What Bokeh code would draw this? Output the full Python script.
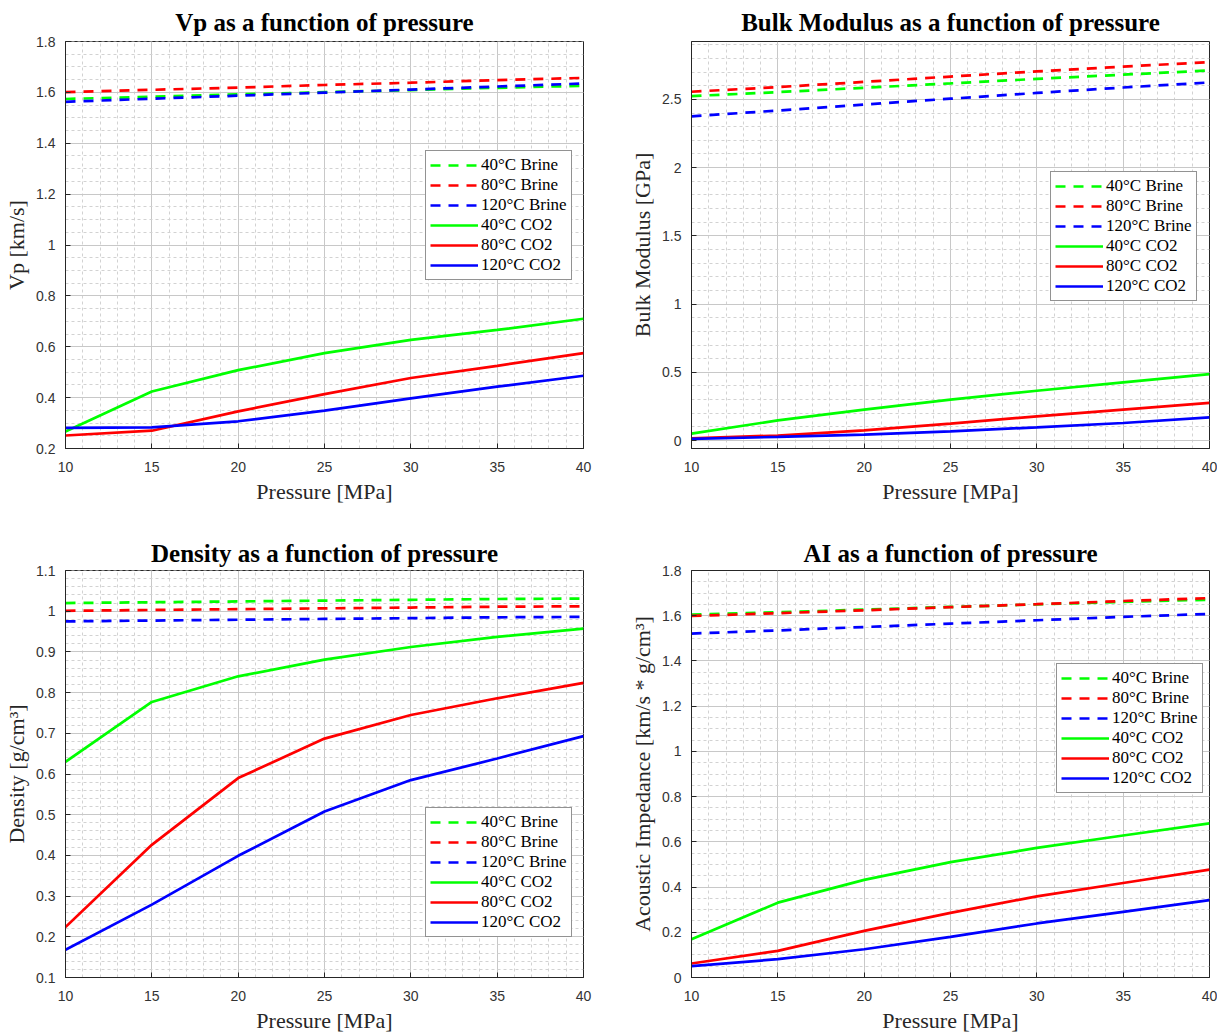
from bokeh.plotting import figure
from bokeh.layouts import column, row
from bokeh.models import Range1d, FixedTicker, CustomJSTickFormatter, Title
from bokeh.embed import file_html
from bokeh.resources import INLINE
import numpy as np

# ---------------- data ----------------
pressure = [10, 15, 20, 25, 30, 35, 40]
series_labels = ["40°C Brine", "80°C Brine", "120°C Brine", "40°C CO2", "80°C CO2", "120°C CO2"]

vp_brine_40 = [1.574, 1.583, 1.592, 1.601, 1.609, 1.618, 1.626]
vp_brine_80 = [1.601, 1.610, 1.619, 1.629, 1.638, 1.648, 1.657]
vp_brine_120 = [1.563, 1.575, 1.587, 1.599, 1.611, 1.623, 1.635]
vp_co2_40 = [0.267, 0.424, 0.508, 0.575, 0.627, 0.666, 0.710]
vp_co2_80 = [0.251, 0.270, 0.346, 0.414, 0.477, 0.525, 0.575]
vp_co2_120 = [0.281, 0.283, 0.307, 0.349, 0.397, 0.443, 0.486]

k_brine_40 = [2.524, 2.553, 2.585, 2.617, 2.650, 2.681, 2.712]
k_brine_80 = [2.556, 2.590, 2.628, 2.667, 2.705, 2.740, 2.773]
k_brine_120 = [2.376, 2.418, 2.462, 2.505, 2.547, 2.587, 2.624]
k_co2_40 = [0.051, 0.148, 0.227, 0.300, 0.365, 0.426, 0.487]
k_co2_80 = [0.017, 0.037, 0.075, 0.124, 0.178, 0.227, 0.276]
k_co2_120 = [0.012, 0.027, 0.044, 0.068, 0.097, 0.129, 0.170]

rho_brine_40 = [1.020, 1.022, 1.024, 1.026, 1.028, 1.030, 1.031]
rho_brine_80 = [1.001, 1.003, 1.005, 1.007, 1.009, 1.011, 1.012]
rho_brine_120 = [0.975, 0.977, 0.979, 0.981, 0.983, 0.985, 0.986]
rho_co2_40 = [0.630, 0.777, 0.840, 0.881, 0.912, 0.937, 0.957]
rho_co2_80 = [0.224, 0.426, 0.590, 0.687, 0.745, 0.786, 0.824]
rho_co2_120 = [0.168, 0.279, 0.399, 0.508, 0.585, 0.638, 0.693]

ai_brine_40 = [1.605, 1.615, 1.627, 1.639, 1.650, 1.661, 1.671]
ai_brine_80 = [1.599, 1.611, 1.624, 1.638, 1.651, 1.665, 1.678]
ai_brine_120 = [1.521, 1.535, 1.550, 1.565, 1.580, 1.595, 1.608]
ai_co2_40 = [0.169, 0.331, 0.432, 0.510, 0.573, 0.628, 0.682]
ai_co2_80 = [0.062, 0.118, 0.206, 0.286, 0.359, 0.418, 0.477]
ai_co2_120 = [0.050, 0.081, 0.125, 0.180, 0.239, 0.290, 0.342]

x_ticks = [10, 15, 20, 25, 30, 35, 40]
vp_ticks = [0.2, 0.4, 0.6, 0.8, 1.0, 1.2, 1.4, 1.6, 1.8]
k_ticks = [0, 0.5, 1.0, 1.5, 2.0, 2.5]
rho_ticks = [0.1, 0.2, 0.3, 0.4, 0.5, 0.6, 0.7, 0.8, 0.9, 1.0, 1.1]
ai_ticks = [0, 0.2, 0.4, 0.6, 0.8, 1.0, 1.2, 1.4, 1.6, 1.8]
x_label = "Pressure [MPa]"

# ---------------- styling ----------------
COLORS = ["#00ff00", "#ff0000", "#0000ff", "#00ff00", "#ff0000", "#0000ff"]
DASHES = ["10 8", "10 8", "10 8", "solid", "solid", "solid"]
SERIF = "Liberation Serif"
SANS = "Liberation Sans"
DARK = "#262626"

fmt = CustomJSTickFormatter(code="return String(Number(tick.toFixed(3)));")


def panel(title, ylabel, series, yr, yticks, yminor, w, h, borders, legend_xy, title_standoff):
    left, right, top, bottom = borders
    p = figure(width=w, height=h, output_backend="svg", toolbar_location=None,
               x_range=Range1d(10, 40), y_range=Range1d(*yr),
               min_border_left=left, min_border_right=right,
               min_border_top=top, min_border_bottom=bottom,
               background_fill_color="white", border_fill_color="white")
    p.title.text = title
    p.title.text_font = SERIF
    p.title.text_font_size = "25px"
    p.title.text_font_style = "bold"
    p.title.text_color = "black"
    p.title.align = "center"
    p.title.standoff = title_standoff

    for ys, lab, c, d in zip(series, series_labels, COLORS, DASHES):
        p.line(pressure, ys, line_color=c, line_width=2.7, line_dash=d, legend_label=lab)

    xminor = list(np.arange(10, 40.5, 1.0))
    p.xaxis.ticker = FixedTicker(ticks=x_ticks, minor_ticks=xminor)
    p.yaxis.ticker = FixedTicker(ticks=yticks, minor_ticks=yminor)
    p.yaxis.formatter = fmt
    p.xaxis.formatter = fmt
    p.yaxis.axis_label = ylabel
    for ax in (p.xaxis, p.yaxis):
        ax.axis_label_text_font = SERIF
        ax.axis_label_text_font_size = "22px"
        ax.axis_label_text_font_style = "normal"
        ax.axis_label_text_color = DARK
        ax.major_label_text_font = SANS
        ax.major_label_text_font_size = "14px"
        ax.major_label_text_color = "#333333"
        ax.axis_line_color = DARK
        ax.major_tick_line_color = DARK
        ax.major_tick_in = 5
        ax.major_tick_out = 0
        ax.minor_tick_line_color = None
    p.xaxis.major_label_standoff = 9
    p.yaxis.major_label_standoff = 6
    p.yaxis.axis_label_standoff = 4

    # x-axis title as a compact title placed below the axis
    p.add_layout(Title(text=x_label, align="center", text_font=SERIF,
                       text_font_size="22px", text_font_style="normal",
                       text_color=DARK, standoff=4), "below")

    for g in (p.xgrid, p.ygrid):
        g.grid_line_color = "#c8c8c8"
        g.grid_line_width = 1
        g.minor_grid_line_color = "#d2d2d2"
        g.minor_grid_line_dash = "3 3"
        g.minor_grid_line_width = 1
    p.outline_line_color = DARK
    p.outline_line_width = 1
    p.outline_line_alpha = 1

    lg = p.legend[0]
    lg.location = legend_xy
    lg.label_text_font = SERIF
    lg.label_text_font_size = "17px"
    lg.label_text_color = "black"
    lg.glyph_width = 48
    lg.glyph_height = 20
    lg.label_height = 20
    lg.label_standoff = 3
    lg.spacing = 0
    lg.padding = 4
    lg.margin = 0
    lg.border_line_color = DARK
    lg.border_line_width = 1
    lg.background_fill_color = "white"
    lg.background_fill_alpha = 1
    return p


vp_minor = list(np.arange(0.2, 1.8001, 0.05))
k_minor = list(np.arange(0.0, 2.9001, 0.1))
rho_minor = list(np.arange(0.1, 1.1001, 0.02))
ai_minor = list(np.arange(0.0, 1.8001, 0.05))

p1 = panel("Vp as a function of pressure", "Vp [km/s]",
           [vp_brine_40, vp_brine_80, vp_brine_120, vp_co2_40, vp_co2_80, vp_co2_120],
           (0.2, 1.8), vp_ticks, vp_minor, 620, 532, (65, 37, 40, 84), (360, 168), 11)
p2 = panel("Bulk Modulus as a function of pressure", "Bulk Modulus [GPa]",
           [k_brine_40, k_brine_80, k_brine_120, k_co2_40, k_co2_80, k_co2_120],
           (-0.058, 2.924), k_ticks, k_minor, 597, 532, (71, 8, 41, 83), (359, 147), 12)
p3 = panel("Density as a function of pressure", "Density [g/cm³]",
           [rho_brine_40, rho_brine_80, rho_brine_120, rho_co2_40, rho_co2_80, rho_co2_120],
           (0.1, 1.1), rho_ticks, rho_minor, 620, 502, (65, 37, 38, 56), (360, 40), 7)
p4 = panel("AI as a function of pressure", "Acoustic Impedance [km/s * g/cm³]",
           [ai_brine_40, ai_brine_80, ai_brine_120, ai_co2_40, ai_co2_80, ai_co2_120],
           (0, 1.8), ai_ticks, ai_minor, 597, 502, (71, 8, 38, 56), (365, 184), 7)

layout = column(row(p1, p2), row(p3, p4))
open("out.html", "w").write(file_html(layout, INLINE))
